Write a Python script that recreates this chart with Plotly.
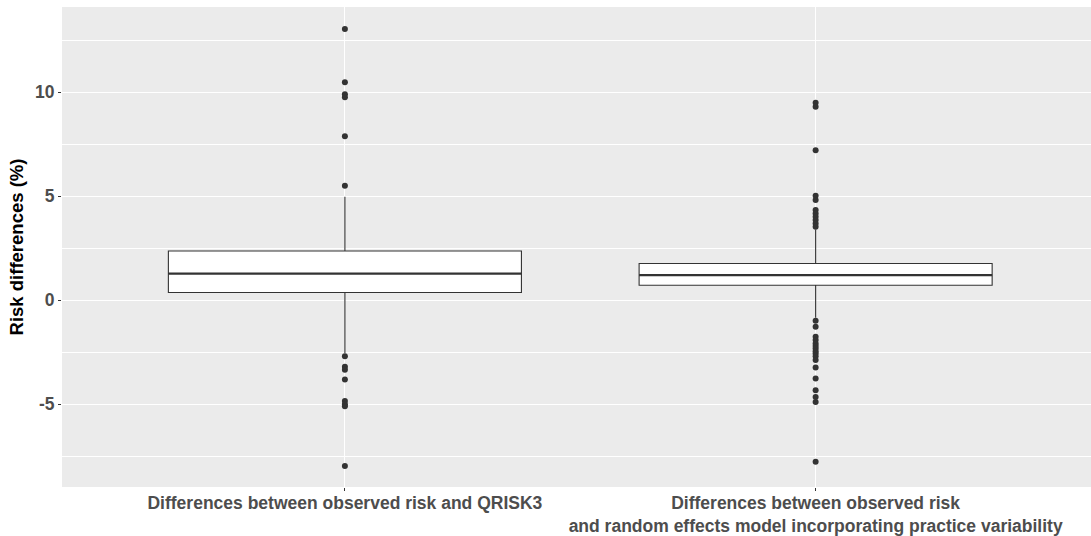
import plotly.graph_objects as go

# Box-plot summaries of risk differences (%) per comparison
categories = [
    "Differences between observed risk and QRISK3",
    "Differences between observed risk<br>and random effects model incorporating practice variability",
]
q1 = [0.37, 0.72]
median = [1.28, 1.20]
q3 = [2.36, 1.76]
whisker_low = [-2.55, -0.85]
whisker_high = [4.97, 3.40]

outliers_qrisk3 = [13.03, 10.47, 9.90, 9.75, 7.88, 5.50,
                   -2.69, -3.20, -3.35, -3.81, -4.85, -5.00, -5.10, -7.97]
outliers_random_effects = [9.49, 9.29, 7.20, 5.02, 4.81, 4.33, 4.17, 4.01, 3.85,
                           3.69, 3.53, -0.99, -1.28, -1.76, -1.92, -2.08, -2.20,
                           -2.32, -2.45, -2.56, -2.70, -2.88, -3.24, -3.77, -4.33,
                           -4.65, -4.89, -7.77]
outliers = [outliers_qrisk3, outliers_random_effects]

y_ticks = [-5, 0, 5, 10]
y_tick_text = ["-5", "0", "5", "10"]

BOX_WIDTH = 0.75
INK = "#333333"
FONT = "Liberation Sans"

fig = go.Figure()

for i in range(len(categories)):
    fig.add_trace(go.Box(
        x=[i], q1=[q1[i]], median=[median[i]], q3=[q3[i]],
        lowerfence=[whisker_low[i]], upperfence=[whisker_high[i]],
        width=BOX_WIDTH, whiskerwidth=0, boxpoints=False,
        fillcolor="white", line=dict(color=INK, width=1.1),
        showlegend=False, hoverinfo="skip",
    ))
    # thicker median bar, as drawn by ggplot2
    fig.add_trace(go.Scatter(
        x=[i - BOX_WIDTH / 2, i + BOX_WIDTH / 2], y=[median[i], median[i]],
        mode="lines", line=dict(color=INK, width=2.2),
        showlegend=False, hoverinfo="skip",
    ))
    fig.add_trace(go.Scatter(
        x=[i] * len(outliers[i]), y=outliers[i], mode="markers",
        marker=dict(color=INK, size=6, line=dict(width=0)),
        showlegend=False, hoverinfo="skip",
    ))

fig.update_layout(
    width=1091, height=536,
    margin=dict(l=62, r=0, t=7, b=49),
    paper_bgcolor="white", plot_bgcolor="#EBEBEB",
    font=dict(family=FONT, color="#4D4D4D"),
    xaxis=dict(
        range=[-0.601, 1.585], tickmode="array",
        tickvals=list(range(len(categories))), ticktext=categories,
        showgrid=True, gridcolor="white", gridwidth=1.2, zeroline=False,
        ticks="outside", ticklen=3, tickwidth=1, tickcolor=INK,
        tickfont=dict(family=FONT, size=17.5, color="#4D4D4D", weight="bold"),
        ticklabelstandoff=-3, automargin=False,
        showline=False, fixedrange=True,
    ),
    yaxis=dict(
        range=[-8.98, 14.09], tickmode="array",
        tickvals=y_ticks, ticktext=y_tick_text,
        showgrid=True, gridcolor="white", gridwidth=1.2, zeroline=False,
        minor=dict(showgrid=True, gridcolor="white", gridwidth=0.6,
                   tickmode="array", tickvals=[-7.5, -2.5, 2.5, 7.5, 12.5]),
        ticks="outside", ticklen=3, tickwidth=1, tickcolor=INK,
        tickfont=dict(family=FONT, size=17.5, color="#4D4D4D", weight="bold"),
        title=dict(text="Risk differences (%)", standoff=6,
                   font=dict(family=FONT, size=18.5, color="black", weight="bold")),
        automargin=False,
        showline=False, fixedrange=True,
    ),
)

fig.write_html("out.html")
